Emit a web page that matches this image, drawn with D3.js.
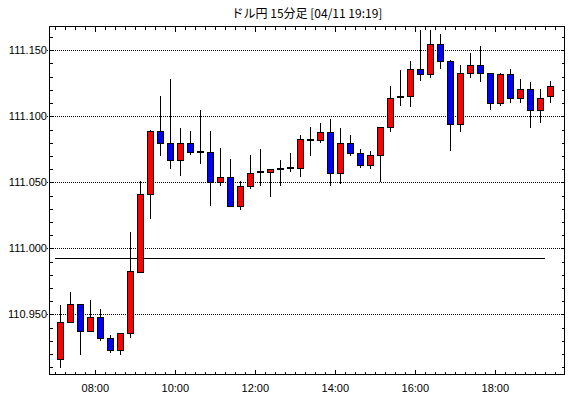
<!DOCTYPE html>
<html>
<head>
<meta charset="utf-8">
<script src="https://cdn.jsdelivr.net/npm/d3@7"></script>
<style>
  body { margin: 0; background: #fff; }
  svg { display: block; }
  text { font-family: "Liberation Sans", Arial, sans-serif; font-size: 11px; fill: #000; }
  .title { font-family: "Noto Sans CJK JP", sans-serif; font-size: 12px; }
</style>
</head>
<body>
<div id="chart"></div>
<script>
// 15 minute bars, USD/JPY
var times = ["07:00","07:15","07:30","07:45","08:00","08:15","08:30","08:45","09:00","09:15",
             "09:30","09:45","10:00","10:15","10:30","10:45","11:00","11:15","11:30","11:45",
             "12:00","12:15","12:30","12:45","13:00","13:15","13:30","13:45","14:00","14:15",
             "14:30","14:45","15:00","15:15","15:30","15:45","16:00","16:15","16:30","16:45",
             "17:00","17:15","17:30","17:45","18:00","18:15","18:30","18:45","19:00","19:15"];
var opens  = [110.916,110.944,110.958,110.937,110.948,110.932,110.923,110.936,110.982,111.041,
              111.089,111.080,111.067,111.080,111.073,111.073,111.050,111.054,111.032,111.047,
              111.057,111.058,111.060,111.060,111.061,111.082,111.082,111.088,111.057,111.080,
              111.072,111.063,111.071,111.092,111.114,111.115,111.136,111.132,111.155,111.142,
              111.094,111.133,111.139,111.133,111.110,111.132,111.114,111.121,111.105,111.115];
var highs  = [110.957,110.967,110.958,110.961,110.954,110.934,110.936,111.012,111.051,111.090,
              111.115,111.128,111.091,111.089,111.105,111.089,111.076,111.068,111.051,111.071,
              111.075,111.060,111.067,111.072,111.086,111.092,111.095,111.098,111.091,111.086,
              111.075,111.074,111.092,111.123,111.135,111.142,111.165,111.165,111.162,111.143,
              111.139,111.148,111.153,111.133,111.133,111.136,111.128,111.126,111.121,111.127];
var lows   = [110.909,110.944,110.919,110.937,110.930,110.921,110.919,110.932,110.982,111.022,
              111.070,111.060,111.055,111.071,111.064,111.032,111.047,111.031,111.029,111.045,
              111.047,111.039,111.047,111.058,111.054,111.070,111.080,111.047,111.049,111.070,
              111.061,111.060,111.050,111.088,111.108,111.107,111.127,111.129,111.136,111.074,
              111.088,111.129,111.126,111.105,111.108,111.110,111.110,111.091,111.095,111.110];
var closes = [110.944,110.958,110.937,110.948,110.932,110.923,110.936,110.983,111.041,111.089,
              111.080,111.067,111.080,111.073,111.073,111.050,111.054,111.032,111.047,111.057,
              111.058,111.060,111.060,111.061,111.083,111.082,111.088,111.057,111.080,111.072,
              111.063,111.071,111.092,111.114,111.115,111.136,111.132,111.155,111.142,111.094,
              111.133,111.139,111.133,111.110,111.132,111.114,111.121,111.105,111.114,111.123];

var refLevel = 110.993;           // flat line across the session
var refFrom = "07:00", refTo = "19:15";
var yLabels = [110.95, 111.00, 111.05, 111.10, 111.15];
var xLabels = ["08:00","10:00","12:00","14:00","16:00","18:00"];
var titleText = "ドル円 15分足 [04/11 19:19]";

var width = 570, height = 398;
var plotL = 49, plotR = 564, plotT = 26, plotB = 374;

var parse = d3.timeParse("%H:%M");
var bars = times.map(function(t, i){
  return { t: parse(t), o: opens[i], h: highs[i], l: lows[i], c: closes[i] };
});

var x = d3.scaleTime()
  .domain([parse("07:00"), parse("19:30")])
  .range([55.3, 555.3]);
var y = d3.scaleLinear()
  .domain([110.9048, 111.1684])
  .range([plotB, plotT]);

function px(v){ return Math.round(v) + 0.5; }

var svg = d3.select("#chart").append("svg")
  .attr("width", width)
  .attr("height", height);

svg.append("text")
  .attr("class", "title")
  .attr("x", 307)
  .attr("y", 18)
  .attr("text-anchor", "middle")
  .text(titleText);

// dotted grid
svg.selectAll(".grid")
  .data(yLabels)
  .enter().append("line")
  .attr("class", "grid")
  .attr("x1", 47).attr("x2", plotR)
  .attr("y1", function(d){ return px(y(d)); })
  .attr("y2", function(d){ return px(y(d)); })
  .attr("stroke", "#000")
  .attr("stroke-dasharray", "1,1")
  .attr("shape-rendering", "crispEdges");

// reference line
svg.append("line")
  .attr("x1", x(parse(refFrom))).attr("x2", x(parse(refTo)))
  .attr("y1", px(y(refLevel))).attr("y2", px(y(refLevel)))
  .attr("stroke", "#000")
  .attr("shape-rendering", "crispEdges");

// candles
var step = 15 * 60 * 1000;
var candle = svg.selectAll(".candle")
  .data(bars)
  .enter().append("g")
  .attr("class", "candle")
  .attr("transform", function(d){ return "translate(" + px(x(new Date(+d.t + step / 2))) + ",0)"; });

candle.append("line")
  .attr("x1", 0).attr("x2", 0)
  .attr("y1", function(d){ return Math.round(y(d.h)); })
  .attr("y2", function(d){ return Math.round(y(d.l)); })
  .attr("stroke", "#000")
  .attr("stroke-width", 1)
  .attr("shape-rendering", "crispEdges");

candle.each(function(d){
  var g = d3.select(this);
  if (Math.abs(d.c - d.o) < 0.0015) {
    g.append("rect")
      .attr("x", -3.5).attr("width", 7)
      .attr("y", Math.round(y((d.o + d.c) / 2)) - 1)
      .attr("height", 2)
      .attr("fill", "#000")
      .attr("shape-rendering", "crispEdges");
  } else {
    var yt = Math.round(y(Math.max(d.o, d.c))), yb = Math.round(y(Math.min(d.o, d.c)));
    g.append("rect")
      .attr("x", -3).attr("width", 6)
      .attr("y", yt).attr("height", yb - yt)
      .attr("fill", d.c > d.o ? "#ff0000" : "#0000ff")
      .attr("stroke", "#000")
      .attr("stroke-width", 1)
      .attr("shape-rendering", "crispEdges");
  }
});

// frame
svg.append("rect")
  .attr("x", plotL + 0.5).attr("y", plotT + 0.5)
  .attr("width", plotR - plotL).attr("height", plotB - plotT)
  .attr("fill", "none")
  .attr("stroke", "#000")
  .attr("shape-rendering", "crispEdges");

// ticks
var yTicks = d3.range(11091, 11117).map(function(v){ return v / 100; });
var xTicks = d3.timeMinute.every(15).range(parse("07:00"), parse("19:31"));

svg.append("g")
  .attr("transform", "translate(" + (plotL + 0.5) + ",0)")
  .call(d3.axisLeft(y).tickValues(yTicks).tickSize(-3).tickFormat(""))
  .call(function(g){ g.select(".domain").remove(); });
svg.append("g")
  .attr("transform", "translate(" + (plotR + 0.5) + ",0)")
  .call(d3.axisRight(y).tickValues(yTicks).tickSize(-3).tickFormat(""))
  .call(function(g){ g.select(".domain").remove(); });

function isMajor(d){ return d.getMinutes() === 0 && d.getHours() % 2 === 0; }

var xb = svg.append("g")
  .attr("transform", "translate(0," + (plotB + 0.5) + ")")
  .call(d3.axisBottom(x).tickValues(xTicks).tickSize(-3).tickFormat(""));
xb.select(".domain").remove();
xb.selectAll(".tick line").attr("y2", function(d){ return isMajor(d) ? -5 : -3; });

var xt = svg.append("g")
  .attr("transform", "translate(0," + (plotT + 0.5) + ")")
  .call(d3.axisTop(x).tickValues(xTicks).tickSize(-3).tickFormat(""));
xt.select(".domain").remove();
xt.selectAll(".tick line").attr("y2", function(d){ return isMajor(d) ? 5 : 3; });

svg.selectAll(".tick line").attr("shape-rendering", "crispEdges");

// labels
svg.selectAll(".ylab")
  .data(yLabels)
  .enter().append("text")
  .attr("class", "ylab")
  .attr("x", 47)
  .attr("y", function(d){ return y(d); })
  .attr("dy", "0.35em")
  .attr("text-anchor", "end")
  .text(function(d){ return d3.format(".3f")(d); });

svg.selectAll(".xlab")
  .data(xLabels)
  .enter().append("text")
  .attr("class", "xlab")
  .attr("x", function(d){ return x(parse(d)); })
  .attr("y", 392)
  .attr("text-anchor", "middle")
  .text(function(d){ return d; });
</script>
</body>
</html>
